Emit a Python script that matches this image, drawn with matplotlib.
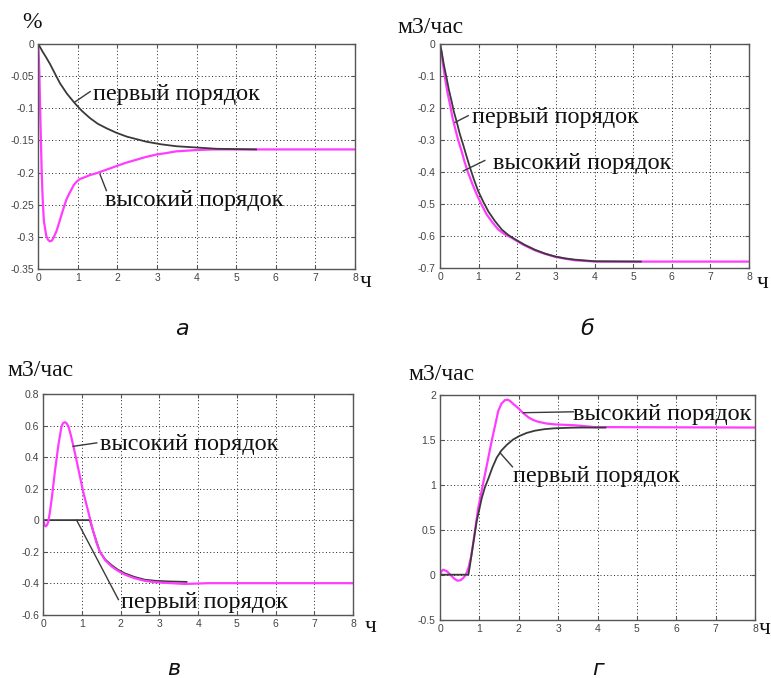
import matplotlib
matplotlib.use("Agg")
import matplotlib.pyplot as plt

# ---- panel а ----
a_t_first = [0, 0.1, 0.2, 0.295, 0.42, 0.547, 0.72, 0.92, 1.1, 1.3, 1.5, 1.72, 1.97, 2.23, 2.48, 2.73, 3.1,
             3.48, 3.99, 4.5, 5.5]
a_y_first = [0, -0.011, -0.021, -0.031, -0.046, -0.061, -0.077, -0.092, -0.104, -0.115, -0.124, -0.131, -0.138,
             -0.144, -0.148, -0.152, -0.156, -0.159, -0.161, -0.163, -0.164]
a_t_high = [0, 0.026, 0.05, 0.085, 0.11, 0.14, 0.2, 0.24, 0.29, 0.34, 0.38, 0.46, 0.52, 0.59, 0.65, 0.71,
            0.78, 0.84, 0.9, 0.97, 1.05, 1.14, 1.3, 1.47, 1.7, 1.97, 2.2, 2.48, 2.7, 2.98, 3.2, 3.48, 3.99,
            4.4, 8]
a_y_high = [0, -0.042, -0.11, -0.198, -0.24, -0.275, -0.298, -0.304, -0.307, -0.306, -0.302, -0.291, -0.279,
            -0.265, -0.253, -0.242, -0.233, -0.226, -0.219, -0.214, -0.21, -0.208, -0.204, -0.201, -0.196,
            -0.19, -0.185, -0.18, -0.176, -0.172, -0.17, -0.167, -0.165, -0.164, -0.164]

# ---- panel б ----
b_t_first = [0, 0.04, 0.1, 0.17, 0.23, 0.30, 0.36, 0.43, 0.51, 0.60, 0.69, 0.78, 0.88, 0.99, 1.12, 1.25,
             1.42, 1.6, 1.77, 1.94, 2.2, 2.46, 2.72, 2.98, 3.24, 3.5, 4.02, 5.2]
b_y_first = [0, -0.023, -0.065, -0.106, -0.143, -0.179, -0.212, -0.242, -0.28, -0.315, -0.352, -0.3875,
             -0.424, -0.46, -0.493, -0.523, -0.553, -0.58, -0.597, -0.61, -0.628, -0.643, -0.655, -0.664,
             -0.67, -0.674, -0.679, -0.68]
b_t_high = [0, 0.04, 0.08, 0.13, 0.19, 0.26, 0.32, 0.39, 0.47, 0.56, 0.64, 0.73, 0.84, 0.95, 1.08, 1.21,
            1.36, 1.51, 1.68, 1.86, 2.15, 2.46, 2.72, 2.98, 3.24, 3.5, 4.02, 8]
b_y_high = [0, -0.027, -0.065, -0.106, -0.15, -0.19, -0.228, -0.2625, -0.3, -0.335, -0.37, -0.403, -0.438,
            -0.47, -0.503, -0.533, -0.558, -0.58, -0.595, -0.606, -0.627, -0.645, -0.656, -0.665, -0.671,
            -0.676, -0.68, -0.68]

# ---- panel в ----
c_t_first = [0, 1.2, 1.29, 1.46, 1.6, 1.76, 1.93, 2.11, 2.35, 2.62, 2.9, 3.23, 3.7]
c_y_first = [0, 0, -0.072, -0.2, -0.25, -0.285, -0.315, -0.338, -0.36, -0.378, -0.385, -0.389, -0.392]
c_t_high = [0, 0.03, 0.06, 0.1, 0.13, 0.17, 0.22, 0.30, 0.39, 0.47, 0.51, 0.56, 0.60, 0.65, 0.71, 0.77,
            0.84, 0.90, 1.03, 1.16, 1.29, 1.37, 1.46, 1.6, 1.76, 1.93, 2.11, 2.35, 2.62, 2.9, 3.23, 3.66,
            4.26, 8]
c_y_high = [0, -0.03, -0.04, -0.03, -0.008, 0.05, 0.14, 0.31, 0.477, 0.594, 0.615, 0.621, 0.615, 0.594,
            0.54, 0.477, 0.40, 0.33, 0.18, 0.055, -0.072, -0.14, -0.2, -0.255, -0.293, -0.322, -0.346,
            -0.368, -0.385, -0.394, -0.399, -0.405, -0.40, -0.40]

# ---- panel г ----
d_t_first = [0, 0.72, 0.76, 0.80, 0.93, 1.06, 1.14, 1.23, 1.33, 1.44, 1.56, 1.69, 1.85, 2.01, 2.2, 2.41,
             2.65, 2.92, 3.3, 3.6, 4.2]
d_y_first = [0, 0, 0.1, 0.22, 0.59, 0.85, 0.97, 1.07, 1.19, 1.30, 1.38, 1.44, 1.50, 1.54, 1.575, 1.60,
             1.617, 1.627, 1.633, 1.635, 1.635]
d_t_high = [0, 0.04, 0.08, 0.17, 0.24, 0.30, 0.38, 0.45, 0.52, 0.59, 0.66, 0.72, 0.79, 0.85, 0.97, 1.14,
            1.31, 1.48, 1.56, 1.65, 1.72, 1.78, 1.88, 1.99, 2.1, 2.24, 2.36, 2.49, 2.7, 2.92, 3.43, 3.93, 8]
d_y_high = [0, 0.04, 0.056, 0.04, 0.01, -0.018, -0.05, -0.067, -0.062, -0.037, 0.0, 0.074, 0.2, 0.37, 0.74,
            1.11, 1.48, 1.82, 1.90, 1.94, 1.945, 1.93, 1.89, 1.85, 1.80, 1.75, 1.72, 1.70, 1.68, 1.67, 1.66,
            1.64, 1.635]

x_ticks = [0, 1, 2, 3, 4, 5, 6, 7, 8]
a_yticks = [0, -0.05, -0.1, -0.15, -0.2, -0.25, -0.3, -0.35]
b_yticks = [0, -0.1, -0.2, -0.3, -0.4, -0.5, -0.6, -0.7]
c_yticks = [0.8, 0.6, 0.4, 0.2, 0, -0.2, -0.4, -0.6]
d_yticks = [2, 1.5, 1, 0.5, 0, -0.5]

lbl_first = "первый порядок"
lbl_high = "высокий порядок"
unit_flow = "м3/час"
unit_pct = "%"
unit_time = "ч"
captions = ["а", "б", "в", "г"]

W, H = 771, 678
MAGENTA = "#ff3cff"
DARK = "#3a3a3a"
SERIF = "Liberation Serif"


def box(l, r, t, b):
    return [l / W, 1 - b / H, (r - l) / W, (b - t) / H]


def fig_text(fig, x, y, s, **kw):
    fig.text(x / W, 1 - y / H, s, **kw)


def style(ax, yticks, ylim):
    ax.set_xlim(0, 8)
    ax.set_ylim(*ylim)
    ax.set_xticks(x_ticks)
    ax.set_yticks(yticks)
    ax.set_yticklabels([("%g" % v) for v in yticks])
    ax.grid(True, color="#222222", linestyle=(0, (1, 2.5)), linewidth=0.7)
    ax.tick_params(direction="in", length=3, top=True, right=True, labelsize=7.5,
                   labelcolor="#444444", color="#555555", pad=3)
    for lab in ax.get_xticklabels() + ax.get_yticklabels():
        lab.set_family("Liberation Sans")
    for sp in ax.spines.values():
        sp.set_color("#555555")
        sp.set_linewidth(1.0)


def lead(ax, p0, p1):
    ax.plot([p0[0], p1[0]], [p0[1], p1[1]], color=DARK, lw=1.0)


def label(ax, x, y, s):
    ax.text(x, y, s, family=SERIF, fontsize=17.5, ha="left", va="baseline", color="#111111")


fig = plt.figure(figsize=(W / 100, H / 100), dpi=100)

# а
ax = fig.add_axes(box(38.3, 355, 44, 269))
ax.plot(a_t_high, a_y_high, color=MAGENTA, lw=1.6)
ax.plot(a_t_first, a_y_first, color=DARK, lw=1.3)
style(ax, a_yticks, (-0.35, 0))
lead(ax, (0.93, -0.09), (1.31, -0.074))
label(ax, 1.39, -0.0875, lbl_first)
lead(ax, (1.56, -0.203), (1.72, -0.228))
label(ax, 1.68, -0.252, lbl_high)

# б
ax = fig.add_axes(box(440, 749, 44, 268))
ax.plot(b_t_high, b_y_high, color=MAGENTA, lw=1.6)
ax.plot(b_t_first, b_y_first, color=DARK, lw=1.3)
style(ax, b_yticks, (-0.7, 0))
lead(ax, (0.39, -0.245), (0.73, -0.224))
label(ax, 0.84, -0.248, lbl_first)
lead(ax, (0.6, -0.397), (1.16, -0.364))
label(ax, 1.38, -0.39, lbl_high)

# в
ax = fig.add_axes(box(43.3, 353, 394, 614.7))
ax.plot(c_t_first, c_y_first, color=DARK, lw=1.3)
ax.plot(c_t_high, c_y_high, color=MAGENTA, lw=1.6)
style(ax, c_yticks, (-0.6, 0.8))
lead(ax, (0.77, 0.468), (1.38, 0.49))
label(ax, 1.46, 0.444, lbl_high)
lead(ax, (0.86, 0.0), (1.94, -0.504))
label(ax, 2.02, -0.558, lbl_first)

# г
ax = fig.add_axes(box(440, 755, 394.7, 619.7))
ax.plot(d_t_high, d_y_high, color=MAGENTA, lw=1.6)
ax.plot(d_t_first, d_y_first, color=DARK, lw=1.3)
style(ax, d_yticks, (-0.5, 2))
lead(ax, (2.12, 1.80), (3.39, 1.81))
label(ax, 3.39, 1.724, lbl_high)
lead(ax, (1.52, 1.357), (1.84, 1.199))
label(ax, 1.86, 1.026, lbl_first)

# units and captions
kw = dict(family=SERIF, fontsize=17, color="#111111", va="baseline")
fig_text(fig, 22, 28, unit_pct, **kw)
fig_text(fig, 397, 33, unit_flow, **kw)
fig_text(fig, 7, 376, unit_flow, **kw)
fig_text(fig, 408, 380, unit_flow, **kw)
fig_text(fig, 360, 287, unit_time, **kw)
fig_text(fig, 757, 288, unit_time, **kw)
fig_text(fig, 365, 632, unit_time, **kw)
fig_text(fig, 759, 634, unit_time, **kw)

ckw = dict(family="DejaVu Sans", style="italic", fontsize=16, color="#111111", ha="center", va="baseline")
fig_text(fig, 182, 335, captions[0], **ckw)
fig_text(fig, 587, 335, captions[1], **ckw)
fig_text(fig, 174, 675, captions[2], **ckw)
fig_text(fig, 598, 675, captions[3], **ckw)

fig.savefig("out.png", dpi=100)
